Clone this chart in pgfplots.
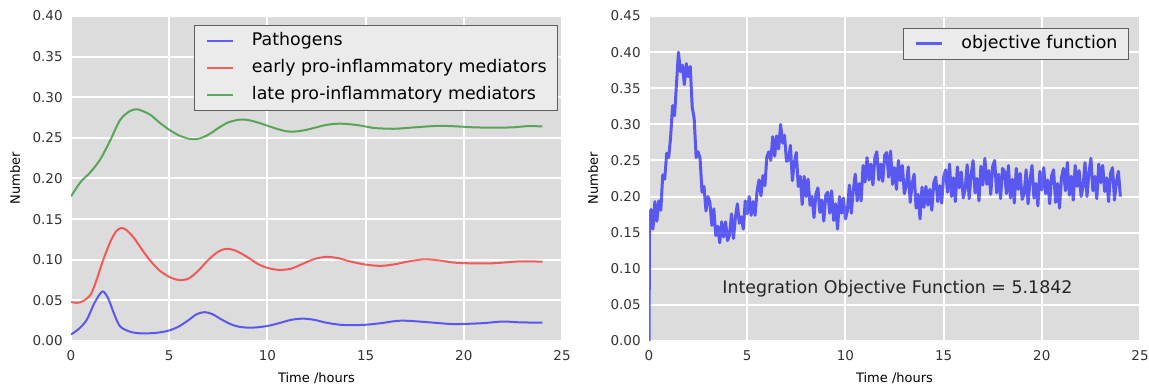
\documentclass[border=0pt]{standalone}
\usepackage{pgfplots}
\pgfplotsset{compat=1.18}
\usepackage{fontspec}
\setmainfont{DejaVu Sans}

\definecolor{panelbg}{HTML}{DCDCDC}
\definecolor{legendbg}{HTML}{EBEBEB}
\definecolor{legendframe}{HTML}{5E5E5E}
\definecolor{mplblue}{HTML}{0000FF}
\definecolor{mplred}{HTML}{FF0000}
\definecolor{mplgreen}{HTML}{008000}

\newcommand{\ticksize}{\fontsize{6.75}{8}\selectfont}
\newcommand{\labsize}{\fontsize{6.5}{8}\selectfont}
\newcommand{\legsize}{\fontsize{8.7}{10}\selectfont}

\pgfplotsset{
  ggpanel/.style={
    scale only axis, width=245.5pt, height=162.5pt,
    xmin=0, xmax=25, ymin=0,
    axis background/.style={fill=panelbg},
    axis line style={draw=none},
    major tick length=0pt,
    grid=major, major grid style={white, line width=1pt},
    tick label style={font=\ticksize, text=black!80, inner sep=0pt},
    xticklabel shift=4.5pt, yticklabel shift=4pt,
    xtick={0,5,10,15,20,25},
    scaled y ticks=false,
    /pgf/number format/assume math mode=true,
    yticklabel style={/pgf/number format/.cd, fixed, fixed zerofill, precision=2},
    label style={font=\labsize, text=black},
    xlabel={Time /hours}, ylabel={Number},
    xlabel style={at={(axis description cs:0.5,-0.1138)}, anchor=center},
    ylabel style={at={(axis description cs:-0.114,0.5)}, anchor=center},
    legend cell align=left,
    % short line sample followed by a fixed gap before the entry text
    legend image code/.code={\draw[##1] (0pt,0pt) -- (13pt,0pt); \path (22pt,0pt);},
    legend style={font=\legsize, fill=legendbg, draw=legendframe, line width=0.5pt,
      inner xsep=5.5pt, inner ysep=3.5pt, row sep=5.25pt, column sep=0pt,
      nodes={inner sep=0pt, text height=6.4pt, text depth=1.9pt}},
  },
}

% Immune response model: state variables
\pgfplotstableread{
t      v
0.0    0.0080
0.4    0.0150
0.8    0.0260
1.2    0.0470
1.6    0.0610
1.9    0.0520
2.2    0.0330
2.5    0.0180
3.0    0.0115
3.5    0.0095
4.0    0.0095
4.5    0.0105
5.0    0.0130
5.5    0.0180
6.0    0.0260
6.4    0.0330
6.8    0.0355
7.2    0.0330
7.7    0.0260
8.2    0.0200
8.7    0.0170
9.3    0.0165
10.0   0.0185
10.6   0.0220
11.2   0.0260
11.8   0.0275
12.4   0.0260
13.0   0.0225
13.7   0.0200
14.3   0.0195
15.0   0.0200
15.8   0.0220
16.5   0.0245
17.0   0.0250
17.7   0.0240
18.5   0.0225
19.3   0.0210
20.0   0.0210
21.0   0.0220
22.0   0.0240
22.8   0.0230
24.0   0.0225
}\pathogens

\pgfplotstableread{
t      v
0.0    0.0480
0.3    0.0470
0.6    0.0490
1.0    0.0570
1.3    0.0750
1.6    0.0970
2.0    0.1220
2.3    0.1350
2.55   0.1390
2.8    0.1370
3.2    0.1270
3.6    0.1130
4.0    0.1000
4.5    0.0870
5.0    0.0790
5.5    0.0750
6.0    0.0770
6.5    0.0870
7.0    0.1000
7.5    0.1100
7.9    0.1135
8.4    0.1110
9.0    0.1030
9.5    0.0950
10.0   0.0900
10.6   0.0875
11.2   0.0890
11.8   0.0950
12.4   0.1010
13.0   0.1035
13.6   0.1020
14.2   0.0980
15.0   0.0940
15.8   0.0925
16.5   0.0945
17.2   0.0980
18.0   0.1005
18.8   0.0990
19.5   0.0965
20.5   0.0955
21.3   0.0955
22.0   0.0965
22.8   0.0980
23.5   0.0980
24.0   0.0975
}\earlymed

\pgfplotstableread{
t      v
0.0    0.1780
0.5    0.1960
1.0    0.2080
1.5    0.2240
2.0    0.2470
2.5    0.2720
3.0    0.2830
3.4    0.2850
4.0    0.2790
4.5    0.2690
5.0    0.2600
5.5    0.2530
6.0    0.2490
6.5    0.2490
7.0    0.2540
7.5    0.2620
8.0    0.2690
8.6    0.2725
9.0    0.2720
9.5    0.2690
10.0   0.2650
10.5   0.2610
11.0   0.2580
11.5   0.2580
12.0   0.2600
12.5   0.2630
13.0   0.2660
13.7   0.2675
14.5   0.2660
15.0   0.2640
15.5   0.2620
16.4   0.2612
17.0   0.2620
17.5   0.2630
18.7   0.2648
19.5   0.2643
20.5   0.2630
21.5   0.2625
22.5   0.2630
23.3   0.2645
24.0   0.2640
}\latemed

% Objective function along the simulated trajectory
\pgfplotstableread{
t v
0.0 0.000
0.03 0.175
0.1 0.182
0.2 0.155
0.3 0.193
0.4 0.166
0.5 0.194
0.6 0.181
0.7 0.230
0.8 0.224
0.9 0.260
1.0 0.254
1.1 0.282
1.2 0.326
1.3 0.312
1.4 0.356
1.5 0.400
1.6 0.373
1.7 0.382
1.8 0.355
1.9 0.384
2.0 0.366
2.1 0.380
2.2 0.324
2.3 0.308
2.4 0.254
2.5 0.262
2.6 0.253
2.7 0.206
2.8 0.214
2.9 0.180
3.0 0.200
3.1 0.192
3.2 0.160
3.3 0.183
3.4 0.146
3.5 0.159
3.6 0.136
3.7 0.165
3.8 0.144
3.9 0.165
4.0 0.139
4.1 0.147
4.2 0.176
4.3 0.142
4.4 0.171
4.5 0.190
4.6 0.163
4.7 0.172
4.8 0.155
4.9 0.194
5.0 0.176
5.1 0.200
5.2 0.174
5.3 0.193
5.4 0.174
5.5 0.207
5.6 0.223
5.7 0.201
5.8 0.229
5.9 0.215
6.0 0.255
6.1 0.262
6.2 0.250
6.3 0.283
6.4 0.256
6.5 0.284
6.6 0.266
6.7 0.300
6.8 0.274
6.9 0.285
7.0 0.249
7.1 0.250
7.2 0.271
7.3 0.222
7.4 0.248
7.5 0.261
7.6 0.214
7.7 0.228
7.8 0.189
7.9 0.228
8.0 0.200
8.1 0.224
8.2 0.188
8.3 0.200
8.4 0.171
8.5 0.204
8.6 0.212
8.7 0.178
8.8 0.195
8.9 0.166
9.0 0.202
9.1 0.206
9.2 0.177
9.3 0.208
9.4 0.167
9.5 0.190
9.6 0.155
9.7 0.200
9.8 0.177
9.9 0.198
10.0 0.169
10.1 0.180
10.2 0.216
10.3 0.177
10.4 0.208
10.5 0.231
10.6 0.194
10.7 0.218
10.8 0.194
10.9 0.243
11.0 0.220
11.1 0.254
11.2 0.223
11.3 0.245
11.4 0.216
11.5 0.254
11.6 0.262
11.7 0.223
11.8 0.245
11.9 0.221
12.0 0.257
12.1 0.261
12.2 0.227
12.3 0.263
12.4 0.217
12.5 0.240
12.6 0.210
12.7 0.250
12.8 0.222
12.9 0.243
13.0 0.204
13.1 0.215
13.2 0.241
13.3 0.192
13.4 0.218
13.5 0.231
13.6 0.184
13.7 0.203
13.8 0.169
13.9 0.213
14.0 0.185
14.1 0.214
14.2 0.188
14.3 0.210
14.4 0.181
14.5 0.219
14.6 0.227
14.7 0.193
14.8 0.215
14.9 0.191
15.0 0.227
15.1 0.237
15.2 0.206
15.3 0.245
15.4 0.200
15.5 0.226
15.6 0.193
15.7 0.241
15.8 0.212
15.9 0.234
16.0 0.198
16.1 0.211
16.2 0.244
16.3 0.197
16.4 0.230
16.5 0.250
16.6 0.205
16.7 0.225
16.8 0.194
16.9 0.242
17.0 0.216
17.1 0.253
17.2 0.217
17.3 0.236
17.4 0.203
17.5 0.242
17.6 0.250
17.7 0.205
17.8 0.231
17.9 0.197
18.0 0.239
18.1 0.235
18.2 0.204
18.3 0.243
18.4 0.198
18.5 0.224
18.6 0.191
18.7 0.239
18.8 0.210
18.9 0.232
19.0 0.196
19.1 0.204
19.2 0.237
19.3 0.190
19.4 0.223
19.5 0.243
19.6 0.198
19.7 0.218
19.8 0.187
19.9 0.235
20.0 0.209
20.1 0.240
20.2 0.204
20.3 0.223
20.4 0.190
20.5 0.229
20.6 0.237
20.7 0.192
20.8 0.218
20.9 0.184
21.0 0.226
21.1 0.239
21.2 0.208
21.3 0.247
21.4 0.202
21.5 0.228
21.6 0.195
21.7 0.243
21.8 0.214
21.9 0.236
22.0 0.200
22.1 0.214
22.2 0.247
22.3 0.200
22.4 0.233
22.5 0.253
22.6 0.208
22.7 0.228
22.8 0.197
22.9 0.245
23.0 0.219
23.1 0.243
23.2 0.207
23.3 0.226
23.4 0.193
23.5 0.232
23.6 0.240
23.7 0.195
23.8 0.221
23.9 0.235
24.0 0.200
}\objective

\begin{document}
\begin{tikzpicture}
\begin{axis}[ggpanel, name=left,
    ymax=0.40, ytick={0,0.05,0.10,0.15,0.20,0.25,0.30,0.35,0.40},
    legend style={at={(axis description cs:0.992,0.972)}, anchor=north east}]
  \addplot[mplblue, draw opacity=0.6, line width=1pt, smooth] table[x=t, y=v] {\pathogens};
  \addlegendentry{Pathogens}
  \addplot[mplred, draw opacity=0.6, line width=1pt, smooth] table[x=t, y=v] {\earlymed};
  \addlegendentry{early pro-inflammatory mediators}
  \addplot[mplgreen, draw opacity=0.6, line width=1pt, smooth] table[x=t, y=v] {\latemed};
  \addlegendentry{late pro-inflammatory mediators}
\end{axis}

\begin{axis}[ggpanel, at={(289pt,0pt)}, anchor=south west,
    ymax=0.45, ytick={0,0.05,0.10,0.15,0.20,0.25,0.30,0.35,0.40,0.45},
    legend style={at={(axis description cs:0.9776,0.963)}, anchor=north east}]
  \addplot[mplblue, draw opacity=0.6, line width=1.5pt, line join=round] table[x=t, y=v] {\objective};
  \addlegendentry{objective function}
  \node[anchor=west, font=\legsize, inner sep=0pt, text=black!85] at (axis cs:3.72,0.072)
    {Integration Objective Function = 5.1842};
\end{axis}

\pgfresetboundingbox
\path[use as bounding box] (-35.5pt,-24.5pt) rectangle (539pt,170.5pt);
\end{tikzpicture}
\end{document}
